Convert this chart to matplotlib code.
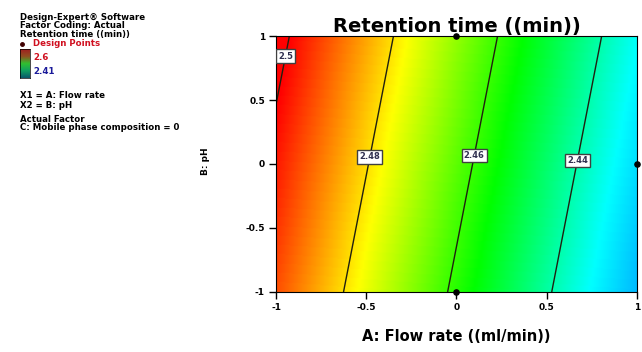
import numpy as np
import matplotlib
matplotlib.use("Agg")
import matplotlib.pyplot as plt
from matplotlib.colors import LinearSegmentedColormap
from matplotlib.lines import Line2D

plt.rcParams['font.family'] = ['DejaVu Sans']

# Fitted response model for retention time (coded factors), C held at 0
intercept = 2.4631
coef_A = -0.03466
coef_B = 0.0048

contour_levels = [2.44, 2.46, 2.48, 2.50]
label_positions = [(0.667, 0.03), (0.09, 0.07), (-0.48, 0.055), (-0.92, 0.836)]

design_A = [0, 1, 0]
design_B = [1, 0, -1]

x_ticks = [-1, -0.5, 0, 0.5, 1]
y_ticks = [-1, -0.5, 0, 0.5, 1]
x_tick_labels = ["-1", "-0.5", "0", "0.5", "1"]
y_tick_labels = ["-1", "-0.5", "0", "0.5", "1"]

resp_low, resp_high = 2.41, 2.6
color_low, color_high = 2.41, 2.50

cmap = LinearSegmentedColormap.from_list(
    "de", [(0.0, "#0050ff"), (0.25, "#00ffff"), (0.5, "#00ff00"),
           (0.75, "#ffff00"), (1.0, "#ff0000")])

fig = plt.figure(figsize=(6.42, 3.52), dpi=100)
ax = fig.add_axes([0.43, 0.1705, 0.562, 0.7272])

A = np.linspace(-1, 1, 201)
B = np.linspace(-1, 1, 201)
AA, BB = np.meshgrid(A, B)
Z = intercept + coef_A * AA + coef_B * BB

ax.imshow(Z, extent=(-1, 1, -1, 1), origin="lower", cmap=cmap,
          vmin=color_low, vmax=color_high, aspect="auto", interpolation="bilinear")
cs = ax.contour(AA, BB, Z, levels=contour_levels, colors="#202010", linewidths=1.0)
labels = ax.clabel(cs, fmt=lambda v: f"{v:g}", fontsize=6, inline=False,
                   manual=label_positions)
for t in labels:
    t.set_rotation(0)
    t.set_fontweight("bold")
    t.set_color("#303050")
    t.set_bbox(dict(boxstyle="square,pad=0.25", fc="white", ec="#404040", lw=1.0))

ax.scatter(design_A, design_B, s=14, color="black", zorder=5, clip_on=False)

ax.set_xlim(-1, 1)
ax.set_ylim(-1, 1)
ax.set_xticks(x_ticks)
ax.set_xticklabels(x_tick_labels, fontsize=6.5, fontweight="bold")
ax.set_yticks(y_ticks)
ax.set_yticklabels(y_tick_labels, fontsize=6.5, fontweight="bold")
ax.tick_params(direction="out", length=5, width=1, pad=3)
for s in ax.spines.values():
    s.set_linewidth(0.8)

ax.set_title("Retention time ((min))", fontsize=14, fontweight="bold", pad=3)
ax.set_xlabel("A: Flow rate ((ml/min))", fontsize=10.5, fontweight="bold", labelpad=12)
fig.text(205 / 642, 1 - 161 / 352, "B: pH", rotation=90, fontsize=6.5,
         fontweight="bold", ha="center", va="center")

# Legend block at the top left
def ftxt(x, y, s, **kw):
    fig.text(x / 642, 1 - y / 352, s, fontsize=6.2, fontweight="bold",
             va="center", ha="left", **kw)

ftxt(20, 17, "Design-Expert® Software")
ftxt(20, 26, "Factor Coding: Actual")
ftxt(20, 35, "Retention time ((min))")
fig.add_artist(Line2D([22 / 642], [1 - 44 / 352], marker="o", markersize=2.5,
                      color="#400000", transform=fig.transFigure))
ftxt(33, 44, "Design Points", color="#d01020")
ftxt(33, 57, f"{resp_high:g}", color="#d01020")
ftxt(33, 71, f"{resp_low:g}", color="#1a1a9a")
cax = fig.add_axes([20 / 642, 1 - 78 / 352, 10 / 642, 29 / 352])
cax.imshow(np.linspace(1, 0, 50).reshape(-1, 1),
           cmap=LinearSegmentedColormap.from_list(
               "bar", ["#0a5a6a", "#10a060", "#30c030", "#905020", "#a02020"]),
           aspect="auto", extent=(0, 1, 0, 1))
cax.set_xticks([])
cax.set_yticks([])
for s in cax.spines.values():
    s.set_linewidth(0.5)
ftxt(20, 96, "X1 = A: Flow rate")
ftxt(20, 105, "X2 = B: pH")
ftxt(20, 119, "Actual Factor")
ftxt(20, 128, "C: Mobile phase composition = 0")

fig.savefig("out.png", dpi=100)
